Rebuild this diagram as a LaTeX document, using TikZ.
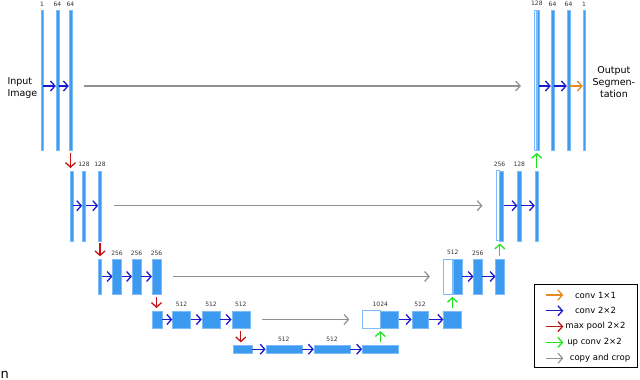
\documentclass[tikz,border=0pt]{standalone}
\usepackage{fontspec}
\setmainfont{DejaVu Sans}
\usetikzlibrary{arrows.meta, positioning, calc}

\definecolor{mapblue}{RGB}{60,154,240}
\definecolor{mapedge}{RGB}{125,188,246}
\definecolor{convblue}{RGB}{25,25,205}
\definecolor{poolred}{RGB}{195,20,20}
\definecolor{upgreen}{RGB}{30,228,30}
\definecolor{outorange}{RGB}{226,140,35}
\definecolor{copygray}{RGB}{145,145,145}

\begin{document}
\begin{tikzpicture}[
  x=1pt, y=-1pt,
  fmap/.style={
    rectangle,
    draw=mapedge,
    fill=mapblue,
    line width=0.4pt,
    inner sep=0pt,
    minimum width=#1
  },
  crop/.style={
    rectangle,
    draw=mapedge,
    fill=white,
    line width=0.7pt,
    inner sep=0pt,
    minimum width=#1
  },
  lvlA/.style={minimum height=140pt},
  lvlB/.style={minimum height=70pt},
  lvlC/.style={minimum height=35pt},
  lvlD/.style={minimum height=17.6pt},
  lvlE/.style={minimum height=8.3pt},
  dim/.style={
    font=\fontsize{6}{7}\selectfont,
    text=black!80,
    inner sep=0pt
  },
  note/.style={
    font=\fontsize{9.5}{12}\selectfont,
    inner sep=0pt
  },
  keytext/.style={
    font=\fontsize{8.5}{9}\selectfont,
    inner sep=0pt
  },
  conv/.style={draw=convblue, line width=1.3pt, -{Straight Barb[length=4.5pt,width=10pt]}},
  outconv/.style={draw=outorange, line width=1.3pt, -{Straight Barb[length=4.5pt,width=10pt]}},
  pool/.style={draw=poolred, line width=1.3pt, -{Straight Barb[length=4.5pt,width=10pt]}},
  upconv/.style={draw=upgreen, line width=1.3pt, -{Straight Barb[length=4.5pt,width=10pt]}},
  copyarrow/.style={draw=copygray, line width=1.2pt, -{Straight Barb[length=4.5pt,width=10pt]}},
  copyline/.style={copyarrow, shorten <=12pt, shorten >=13pt},
  vgap/.style={shorten <=2.5pt, shorten >=2.5pt}
]

\useasboundingbox (0,0) rectangle (640,380);

% ============================================================
% Contracting path
% ============================================================

\node[fmap=2pt, lvlA] (L0a) at (42,80) {};
\node[fmap=3pt, lvlA] (L0b) at (57.5,80) {};
\node[fmap=3pt, lvlA] (L0c) at (70.5,80) {};

\node[fmap=3.3pt, lvlB] (L1a) at (71.5,205.7) {};
\node[fmap=3.3pt, lvlB] (L1b) at (84,205.7) {};
\node[fmap=3.3pt, lvlB] (L1c) at (100,205.7) {};

\node[fmap=3.3pt, lvlC] (L2a) at (100,276.5) {};
\node[fmap=8.7pt, lvlC] (L2b) at (117,276.5) {};
\node[fmap=8.7pt, lvlC] (L2c) at (136.5,276.5) {};
\node[fmap=8.7pt, lvlC] (L2d) at (156.5,276.5) {};

\node[fmap=9.5pt, lvlD] (L3a) at (157.3,319.5) {};
\node[fmap=18pt, lvlD] (L3b) at (181.5,319.5) {};
\node[fmap=18pt, lvlD] (L3c) at (211,319.5) {};
\node[fmap=18pt, lvlD] (L3d) at (240.8,319.5) {};

\node[fmap=19pt, lvlE] (L4a) at (242.5,349.2) {};
\node[fmap=36pt, lvlE] (L4b) at (283.8,349.2) {};
\node[fmap=36pt, lvlE] (L4c) at (332,349.2) {};
\node[fmap=36pt, lvlE] (L4d) at (380.3,349.2) {};

% ============================================================
% Expansive path
% ============================================================

\node[crop=17.3pt, lvlD] (R3w) at (371.3,319.5) {};
\node[fmap=18.3pt, lvlD] (R3a) at (389.2,319.5) {};
\node[fmap=16.6pt, lvlD] (R3b) at (420,319.5) {};
\node[fmap=18pt, lvlD] (R3c) at (452.5,319.5) {};

\node[crop=9.2pt, lvlC] (R2w) at (447.8,276.5) {};
\node[fmap=9pt, lvlC] (R2a) at (457.2,276.5) {};
\node[fmap=8.3pt, lvlC] (R2b) at (477.8,276.5) {};
\node[fmap=8.3pt, lvlC] (R2c) at (499.8,276.5) {};

\node[crop=3.3pt, lvlB] (R1w) at (497.5,205.7) {};
\node[fmap=4pt, lvlB] (R1a) at (501.5,205.7) {};
\node[fmap=3.3pt, lvlB] (R1b) at (519.3,205.7) {};
\node[fmap=3.3pt, lvlB] (R1c) at (536.7,205.7) {};

\node[crop=2.2pt, lvlA] (R0w) at (535.4,80) {};
\node[fmap=2pt, lvlA] (R0a) at (537.7,80) {};
\node[fmap=3pt, lvlA] (R0b) at (552.5,80) {};
\node[fmap=3pt, lvlA] (R0c) at (568.5,80) {};
\node[fmap=2pt, lvlA] (R0d) at (584,80) {};

% ============================================================
% Channel numbers
% ============================================================

\node[dim, above=3.5pt of L0a] {1};
\node[dim, above=3.5pt of L0b] {64};
\node[dim, above=3.5pt of L0c] {64};
\node[dim, above=3.5pt of L1b] {128};
\node[dim, above=3.5pt of L1c] {128};
\node[dim, above=3.5pt of L2b] {256};
\node[dim, above=3.5pt of L2c] {256};
\node[dim, above=3.5pt of L2d] {256};
\node[dim, above=3.5pt of L3b] {512};
\node[dim, above=3.5pt of L3c] {512};
\node[dim, above=3.5pt of L3d] {512};
\node[dim, above=3.5pt of L4b] {512};
\node[dim, above=3.5pt of L4c] {512};

\node[dim, above=3.5pt] at (R3w.north east) {1024};
\node[dim, above=3.5pt of R3b] {512};
\node[dim, above=3.5pt] at (R2w.north east) {512};
\node[dim, above=3.5pt of R2b] {256};
\node[dim, above=3.5pt] at (R1w.north east) {256};
\node[dim, above=3.5pt of R1b] {128};
\node[dim, above=3.5pt] at (R0w.north east) {128};
\node[dim, above=3.5pt of R0b] {64};
\node[dim, above=3.5pt of R0c] {64};
\node[dim, above=3.5pt of R0d] {1};

% ============================================================
% Input and output
% ============================================================

\node[note, anchor=east, align=left] (inlabel) at (37.5,88.5) {Input\\Image};
\node[note, anchor=west, align=center] (outlabel) at (592.5,82.5) {Output\\Segmen-\\tation};

% ============================================================
% Convolutions
% ============================================================

\draw[conv] ([yshift=-6pt]L0a.east) -- ([yshift=-6pt]L0b.west);
\draw[conv] ([yshift=-6pt]L0b.east) -- ([yshift=-6pt]L0c.west);
\draw[conv] ([yshift=-6pt]R0a.east) -- ([yshift=-6pt]R0b.west);
\draw[conv] ([yshift=-6pt]R0b.east) -- ([yshift=-6pt]R0c.west);
\draw[outconv] ([yshift=-6pt]R0c.east) -- ([yshift=-6pt]R0d.west);

\draw[conv] (L1a) -- (L1b);
\draw[conv] (L1b) -- (L1c);
\draw[conv] (R1a) -- (R1b);
\draw[conv] (R1b) -- (R1c);

\draw[conv] (L2a) -- (L2b);
\draw[conv] (L2b) -- (L2c);
\draw[conv] (L2c) -- (L2d);
\draw[conv] (R2a) -- (R2b);
\draw[conv] (R2b) -- (R2c);

\draw[conv] (L3a) -- (L3b);
\draw[conv] (L3b) -- (L3c);
\draw[conv] (L3c) -- (L3d);
\draw[conv] (R3a) -- (R3b);
\draw[conv] (R3b) -- (R3c);

\draw[conv] (L4a) -- (L4b);
\draw[conv] (L4b) -- (L4c);
\draw[conv] (L4c) -- (L4d);

% ============================================================
% Pooling and up-convolutions
% ============================================================

\draw[pool, vgap] (L0c.south) -- (L0c.south |- L1a.north);
\draw[pool, vgap] (L1c.south) -- (L1c.south |- L2a.north);
\draw[pool, vgap] (L2d.south) -- (L2d.south |- L3a.north);
\draw[pool, vgap] (L3d.south) -- (L3d.south |- L4a.north);

\draw[upconv, vgap] (L4d.north) -- (L4d.north |- R3w.south);
\draw[upconv, vgap] (R3c.north) -- (R3c.north |- R2w.south);
\draw[upconv, vgap] (R2c.north) -- (R2c.north |- R1w.south);
\draw[upconv, vgap] (R1c.north) -- (R1c.north |- R0w.south);

% ============================================================
% Copy and crop
% ============================================================

\draw[copyline] ([yshift=-6pt]L0c.east) -- ([yshift=-6pt]R0w.west);
\draw[copyline] (L1c) -- (R1w);
\draw[copyline] (L2d) -- (R2w);
\draw[copyline] (L3d) -- (R3w);

% ============================================================
% Legend
% ============================================================

\node[draw, line width=0.8pt, inner sep=0pt, minimum width=102.7pt, minimum height=83pt,
  anchor=north west] (legend) at (534,284.3) {};

\coordinate (k1s) at (545.7,295);   \coordinate (k1e) at (563.3,295);
\coordinate (k2s) at (545.7,310.8); \coordinate (k2e) at (563.3,310.8);
\coordinate (k3s) at (545.7,326.6); \coordinate (k3e) at (563.3,326.6);
\coordinate (k4s) at (545.7,342.4); \coordinate (k4e) at (563.3,342.4);
\coordinate (k5s) at (545.7,358.2); \coordinate (k5e) at (563.3,358.2);

\draw[outconv] (k1s) -- (k1e);
\draw[conv] (k2s) -- (k2e);
\draw[pool] (k3s) -- (k3e);
\draw[upconv] (k4s) -- (k4e);
\draw[copyarrow] (k5s) -- (k5e);

\node[keytext] (k1) at (595.5,295) {conv 1×1};
\node[keytext] (k2) at (595.5,310.8) {conv 2×2};
\node[keytext] (k3) at (595.5,326.6) {max pool 2×2};
\node[keytext] (k4) at (594.5,342.4) {up conv 2×2};
\node[keytext] (k5) at (600,358.2) {copy and crop};

% stray caption letter
\node[font=\fontsize{13}{15}\selectfont, inner sep=0pt, anchor=base west] (stray) at (0.5,378) {n};

\end{tikzpicture}
\end{document}
